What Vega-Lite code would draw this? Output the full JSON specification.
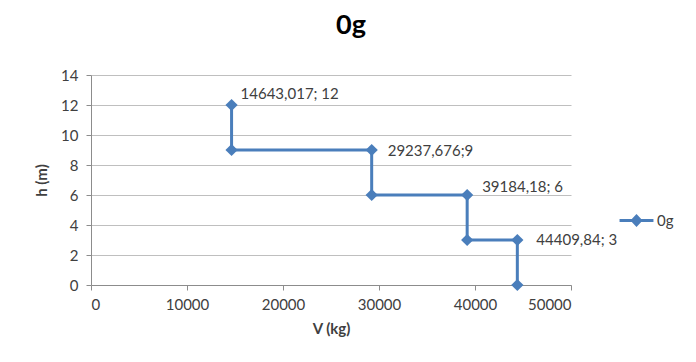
{
  "$schema": "https://vega.github.io/schema/vega-lite/v6.json",
  "width": 480,
  "height": 210,
  "autosize": {"type": "none"},
  "padding": {"left": 91, "top": 75, "right": 125, "bottom": 77},
  "background": "white",
  "title": {
    "text": "0g",
    "font": "Lato",
    "fontSize": 27,
    "fontWeight": "bold",
    "color": "#000000",
    "anchor": "middle",
    "dx": 20,
    "offset": 28
  },
  "data": {
    "values": [
      {"step": 1, "V": 14643.017, "h": 12, "series": "0g", "label": "14643,017; 12", "pos": "a"},
      {"step": 2, "V": 14643.017, "h": 9, "series": "0g", "label": null, "pos": null},
      {"step": 3, "V": 29237.676, "h": 9, "series": "0g", "label": "29237,676;9", "pos": "b"},
      {"step": 4, "V": 29237.676, "h": 6, "series": "0g", "label": null, "pos": null},
      {"step": 5, "V": 39184.18, "h": 6, "series": "0g", "label": "39184,18; 6", "pos": "c"},
      {"step": 6, "V": 39184.18, "h": 3, "series": "0g", "label": null, "pos": null},
      {"step": 7, "V": 44409.84, "h": 3, "series": "0g", "label": "44409,84; 3", "pos": "d"},
      {"step": 8, "V": 44409.84, "h": 0, "series": "0g", "label": null, "pos": null}
    ]
  },
  "encoding": {
    "x": {
      "field": "V",
      "type": "quantitative",
      "scale": {"domain": [0, 50000], "nice": false, "zero": true},
      "axis": {
        "title": "V (kg)",
        "values": [0, 10000, 20000, 30000, 40000, 50000],
        "format": "d",
        "grid": false,
        "domainColor": "#8c8c8c",
        "tickColor": "#8c8c8c",
        "tickSize": 5,
        "labelPadding": 7,
        "labelFont": "Lato",
        "labelFontSize": 15,
        "labelColor": "#404040",
        "titleFont": "Lato",
        "titleFontSize": 15,
        "titleFontWeight": "bold",
        "titleColor": "#404040",
        "titlePadding": 9
      }
    },
    "y": {
      "field": "h",
      "type": "quantitative",
      "scale": {"domain": [0, 14], "nice": false},
      "axis": {
        "title": "h (m)",
        "values": [0, 2, 4, 6, 8, 10, 12, 14],
        "grid": true,
        "gridColor": "#bfbfbf",
        "gridWidth": 1,
        "domainColor": "#8c8c8c",
        "tickColor": "#8c8c8c",
        "tickSize": 5,
        "labelPadding": 8,
        "labelFont": "Lato",
        "labelFontSize": 15,
        "labelColor": "#404040",
        "titleFont": "Lato",
        "titleFontSize": 15,
        "titleFontWeight": "bold",
        "titleColor": "#404040",
        "titlePadding": 11
      }
    }
  },
  "layer": [
    {
      "mark": {"type": "line", "strokeWidth": 3},
      "encoding": {
        "order": {"field": "step", "type": "quantitative"},
        "color": {
          "field": "series",
          "type": "nominal",
          "scale": {"range": ["#4A7EBB"]},
          "legend": {
            "title": null,
            "orient": "none",
            "legendX": 527,
            "legendY": 127,
            "symbolType": "M-1,0H1M-0.24,0L0,-0.26L0.24,0L0,0.26Z",
            "symbolSize": 1150,
            "symbolStrokeWidth": 3,
            "symbolFillColor": "#4A7EBB",
            "symbolStrokeColor": "#4A7EBB",
            "labelFont": "Lato",
            "labelFontSize": 15,
            "labelColor": "#404040",
            "labelOffset": 2
          }
        }
      }
    },
    {
      "mark": {"type": "point", "shape": "diamond", "filled": true, "size": 150, "opacity": 1},
      "encoding": {
        "color": {"field": "series", "type": "nominal", "legend": null}
      }
    },
    {
      "transform": [{"filter": "datum.pos === 'a'"}],
      "mark": {"type": "text", "align": "left", "baseline": "middle", "dx": 9, "dy": -11, "font": "Lato", "fontSize": 15, "color": "#404040"},
      "encoding": {"text": {"field": "label"}}
    },
    {
      "transform": [{"filter": "datum.pos === 'b'"}],
      "mark": {"type": "text", "align": "left", "baseline": "middle", "dx": 16, "dy": 1, "font": "Lato", "fontSize": 15, "color": "#404040"},
      "encoding": {"text": {"field": "label"}}
    },
    {
      "transform": [{"filter": "datum.pos === 'c'"}],
      "mark": {"type": "text", "align": "left", "baseline": "middle", "dx": 15, "dy": -8, "font": "Lato", "fontSize": 15, "color": "#404040"},
      "encoding": {"text": {"field": "label"}}
    },
    {
      "transform": [{"filter": "datum.pos === 'd'"}],
      "mark": {"type": "text", "align": "left", "baseline": "middle", "dx": 19, "dy": 0, "font": "Lato", "fontSize": 15, "color": "#404040"},
      "encoding": {"text": {"field": "label"}}
    }
  ],
  "config": {
    "view": {"stroke": null}
  }
}
